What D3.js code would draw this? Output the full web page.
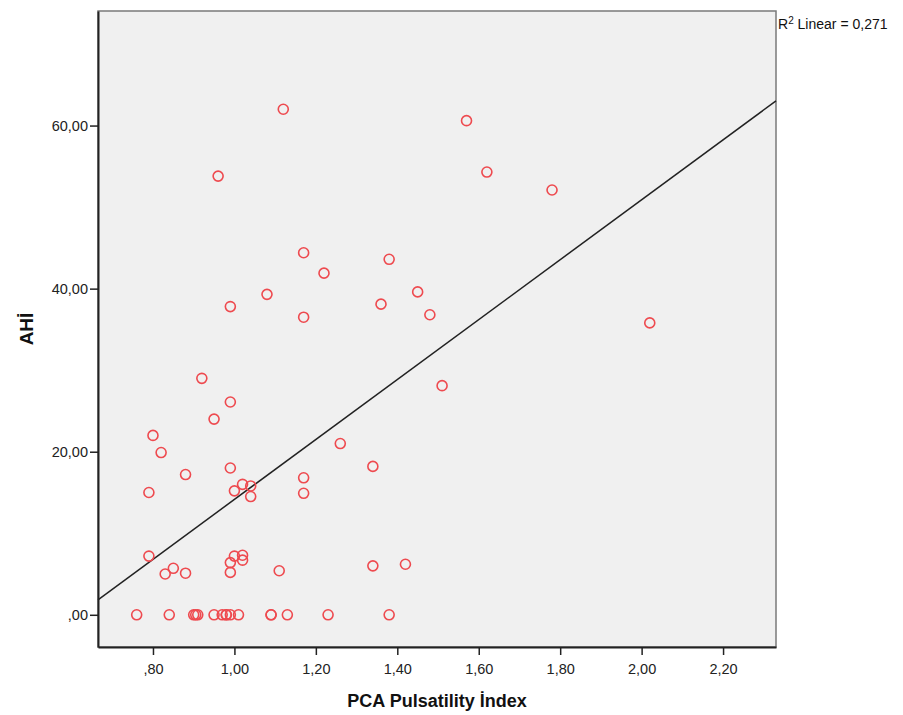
<!DOCTYPE html>
<html>
<head>
<meta charset="utf-8">
<script src="https://cdn.jsdelivr.net/npm/d3@7"></script>
<style>
  body { margin: 0; background: #fff; }
  text { font-family: "Liberation Sans", Arial, sans-serif; }
</style>
</head>
<body>
<div id="chart"></div>
<script>
// PCA Pulsatility Index (x) vs AHI (y)
const pciValues = [
  1.12, 0.96, 1.17, 1.22, 1.08, 0.99, 1.17, 1.57, 1.62, 1.78,
  1.38, 1.45, 1.36, 1.48, 2.02, 0.92, 1.51, 0.99, 0.95, 0.80,
  0.82, 1.26, 1.34, 0.99, 0.88, 1.17, 1.02, 1.04, 0.79, 1.00,
  1.04, 1.17, 0.79, 0.85, 0.83, 0.88, 1.00, 1.02, 1.02, 0.99,
  0.99, 1.11, 1.34, 1.42,
  0.76, 0.84, 0.90, 0.905, 0.91, 0.95, 0.97, 0.98, 0.98, 0.99,
  1.01, 1.09, 1.09, 1.13, 1.23, 1.38
];
const ahiValues = [
  62.0, 53.8, 44.4, 41.9, 39.3, 37.8, 36.5, 60.6, 54.3, 52.1,
  43.6, 39.6, 38.1, 36.8, 35.8, 29.0, 28.1, 26.1, 24.0, 22.0,
  19.9, 21.0, 18.2, 18.0, 17.2, 16.8, 16.0, 15.8, 15.0, 15.2,
  14.5, 14.9, 7.2, 5.7, 5.0, 5.1, 7.2, 7.3, 6.7, 6.4,
  5.2, 5.4, 6.0, 6.2,
  0, 0, 0, 0, 0, 0, 0, 0, 0, 0,
  0, 0, 0, 0, 0, 0
];
const xTicks = [0.8, 1.0, 1.2, 1.4, 1.6, 1.8, 2.0, 2.2];
const yTicks = [0, 20, 40, 60];
const fitCoef = [-22.6, 36.75]; // intercept, slope of the linear fit
const r2Text = "0,271";

const W = 903, H = 715;
const margin = { top: 11, right: 127, bottom: 68, left: 98 },
  width = W - margin.left - margin.right,
  height = H - margin.top - margin.bottom,
  bgColor = "#f0f0f0",
  pointColor = "#ee4a4f";

const x = d3.scaleLinear().domain([0.665, 2.33]).range([0, width]);
const y = d3.scaleLinear().domain([-3.95, 74.05]).range([height, 0]);

// comma decimal, no leading zero, like SPSS
function fmt(v, digits) {
  let s = v.toFixed(digits).replace(".", ",");
  if (s.startsWith("0,")) s = s.slice(1);
  return s;
}

const svg = d3.select("#chart").append("svg")
  .attr("width", W)
  .attr("height", H);

const g = svg.append("g")
  .attr("transform", "translate(" + margin.left + "," + margin.top + ")");

g.append("rect")
  .attr("width", width)
  .attr("height", height)
  .attr("fill", bgColor)
  .attr("stroke", "#7a7a7a")
  .attr("stroke-width", 1.5);

// axes
const xAxis = g.append("g")
  .attr("transform", "translate(0," + height + ")")
  .call(d3.axisBottom(x).tickValues(xTicks).tickSize(8).tickSizeOuter(0).tickPadding(9)
    .tickFormat(d => fmt(d, 2)));
const yAxis = g.append("g")
  .call(d3.axisLeft(y).tickValues(yTicks).tickSize(8).tickSizeOuter(0).tickPadding(2)
    .tickFormat(d => fmt(d, 2)));

[xAxis, yAxis].forEach(a => {
  a.select(".domain").attr("stroke", "#222").attr("stroke-width", 2);
  a.selectAll(".tick line").attr("stroke", "#222").attr("stroke-width", 1.5);
  a.selectAll(".tick text").attr("font-size", 14.5).attr("fill", "#222")
    .attr("font-family", "'Liberation Sans', Arial, sans-serif");
});

// fit line
const xd = x.domain();
g.append("line")
  .attr("x1", x(xd[0])).attr("y1", y(fitCoef[0] + fitCoef[1] * xd[0]))
  .attr("x2", x(xd[1])).attr("y2", y(fitCoef[0] + fitCoef[1] * xd[1]))
  .attr("stroke", "#222")
  .attr("stroke-width", 1.5);

// points
g.selectAll("circle.pt")
  .data(pciValues.map((v, i) => [v, ahiValues[i]]))
  .enter()
  .append("circle")
  .attr("class", "pt")
  .attr("cx", d => x(d[0]))
  .attr("cy", d => y(d[1]))
  .attr("r", 5)
  .attr("fill", "none")
  .attr("stroke", pointColor)
  .attr("stroke-width", 1.6);

// labels
svg.append("text")
  .attr("x", margin.left + width / 2)
  .attr("y", 707)
  .attr("text-anchor", "middle")
  .attr("font-size", 18)
  .attr("font-weight", "bold")
  .attr("fill", "#111")
  .text("PCA Pulsatility İndex");

svg.append("text")
  .attr("transform", "translate(33," + (margin.top + height / 2) + ") rotate(-90)")
  .attr("text-anchor", "middle")
  .attr("font-size", 19)
  .attr("font-weight", "bold")
  .attr("fill", "#111")
  .text("AHİ");

const r2 = svg.append("text")
  .attr("x", margin.left + width + 2)
  .attr("y", 29)
  .attr("font-size", 14)
  .attr("fill", "#111");
r2.append("tspan").text("R");
r2.append("tspan").attr("dy", -5).attr("font-size", 10).text("2");
r2.append("tspan").attr("dy", 5).text(" Linear = " + r2Text);
</script>
</body>
</html>
